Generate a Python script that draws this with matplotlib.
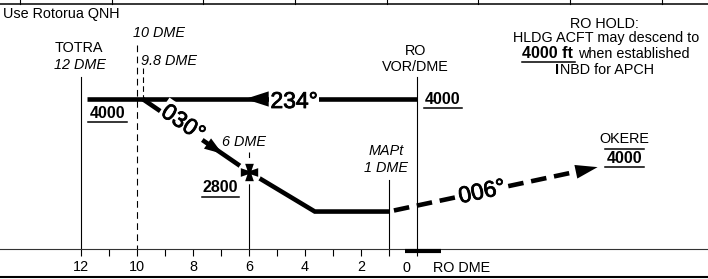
import numpy as np
import matplotlib
matplotlib.use('Agg')
from matplotlib import pyplot as plt
from matplotlib.path import Path
from matplotlib.transforms import Affine2D
import matplotlib.patheffects as pe

plt.rcParams['font.family'] = ['Liberation Sans', 'DejaVu Sans']

# profile data: distance in DME (NM from RO), altitude in ft
hold_dme = [11.8, 0.0]
hold_alt = [4000, 4000]
descent_dme = [9.8, 6.0, 3.65, 1.0]
descent_alt = [4000, 2800, 2150, 2150]
missed_dme = [1.0, -6.45]
missed_alt = [2150, 2880]
fix_dme, fix_alt = 6.0, 2800
major_ticks = [12, 10, 8, 6, 4, 2, 0]
major_labels = ['12', '10', '8', '6', '4', '2', '']
minor_ticks = [11, 9, 7, 5, 3, 1]

W, H = 708, 279
fig = plt.figure(figsize=(W / 100, H / 100), dpi=100)
PX = Affine2D().scale(1 / W, -1 / H).translate(0, 1) + fig.transFigure

ax = fig.add_axes([0, 30 / H, 1, 249 / H])
ft_px = 1200 / 73


def alt(py):
    return 4000 + (99 - py) * ft_px


ax.set_xlim(417 / 28, (417 - W) / 28)
ax.set_ylim(alt(249), alt(0))
for s in ['top', 'left', 'right']:
    ax.spines[s].set_visible(False)
ax.spines['bottom'].set_linewidth(0.8)
ax.spines['bottom'].set_color('#333333')
ax.set_yticks([])
ax.set_xticks(major_ticks)
ax.set_xticklabels(major_labels)
ax.set_xticks(minor_ticks, minor=True)
ax.tick_params(axis='x', which='both', direction='out', length=5.2, width=0.8,
               colors='k', labelsize=10.4, pad=3)
ax.patch.set_visible(False)

# vertical reference lines
vk = dict(color='k', lw=0.8, clip_on=False, zorder=1)
ax.plot([12, 12], [alt(77), alt(249)], **vk)
ax.plot([10, 10], [alt(45), alt(249)], ls=(0, (6, 4)), **vk)
ax.plot([9.8, 9.8], [alt(68), 4000], ls=(0, (5, 3)), **vk)
ax.plot([6, 6], [alt(152), fix_alt], ls=(0, (5, 3)), **vk)
ax.plot([6, 6], [fix_alt, alt(249)], **vk)
ax.plot([1, 1], [alt(180), alt(249)], **vk)
ax.plot([0, 0], [alt(77), alt(249)], **vk)
ax.plot([0.42, -0.86], [alt(250.5), alt(250.5)], color='k', lw=3,
        solid_capstyle='butt', clip_on=False, zorder=3)

# flight path
thick = dict(color='k', lw=3.3, solid_capstyle='butt', zorder=3)
ax.plot(hold_dme, hold_alt, **thick)
ax.plot(descent_dme, descent_alt, solid_joinstyle='miter', **thick)
mx = np.array(missed_dme)
my = np.array(missed_alt)
f = 0.95
ax.plot([mx[0], mx[0] + (mx[1] - mx[0]) * f], [my[0], my[0] + (my[1] - my[0]) * f],
        color='k', lw=3.3, ls=(4.0, (3.4, 1.7)), dash_capstyle='butt', zorder=3)


def head(tip, base, length, width):
    ax.annotate('', xy=tip, xytext=base, zorder=5,
                arrowprops=dict(arrowstyle=f'-|>,head_length={length},head_width={width}',
                                lw=0, color='k', shrinkA=0, shrinkB=0, mutation_scale=1))


head((6.14, 4000), (4.0, 4000), 17, 5.5)
d_tip, d_base = 6.95, 8.0
head((d_tip, np.interp(d_tip, [6, 9.8], [2800, 4000])),
     (d_base, np.interp(d_base, [6, 9.8], [2800, 4000])), 13, 4.5)
head((mx[1], my[1]), (mx[0], my[0]), 16, 5)

# fix symbol
a, b = 0.24, 0.5
verts = [(a, a), (b, 1), (-b, 1), (-a, a), (-1, b), (-1, -b), (-a, -a), (-b, -1),
         (b, -1), (a, -a), (1, -b), (1, b), (a, a)]
cross = Path(verts, closed=True)
ax.plot([fix_dme], [fix_alt], marker='o', ms=16, mfc='white', mec='white', zorder=4)
ax.plot([fix_dme], [fix_alt], marker=cross, ms=12.5, color='k', mew=0, zorder=6)


def ang(x0, y0, x1, y1):
    p = ax.transData.transform([[x0, y0], [x1, y1]])
    return np.degrees(np.arctan2(p[1, 1] - p[0, 1], p[1, 0] - p[0, 0]))


def txt(x, y, s, **kw):
    kw.setdefault('size', 10.4)
    kw.setdefault('ha', 'center')
    kw.setdefault('va', 'baseline')
    fig.text(x, y, s, transform=PX, **kw)


def hline(x0, x1, y, lw=1.1):
    fig.add_artist(plt.Line2D([x0, x1], [y, y], color='k', lw=lw, transform=PX))


white = dict(boxstyle='square,pad=0.08', fc='white', ec='none')
heavy = [pe.withStroke(linewidth=0.6, foreground='k')]
txt(294, 108, '234°', size=16.5, bbox=white, zorder=4, path_effects=heavy)
txt(183, 123, '030°', size=16.5, va='center', rotation=ang(9.8, 4000, 6, 2800),
    rotation_mode='anchor', bbox=white, zorder=4, path_effects=heavy)
txt(482, 192, '006°', size=16.5, va='center', rotation=ang(mx[0], my[0], mx[1], my[1]),
    rotation_mode='anchor', bbox=white, zorder=4, path_effects=heavy)

txt(3, 18, 'Use Rotorua QNH', ha='left')
txt(133, 37, '10 DME', ha='left', style='italic')
txt(79, 52, 'TOTRA')
txt(79.5, 69, '12 DME', style='italic')
txt(141, 65, '9.8 DME', ha='left', style='italic')
txt(107.5, 118, '4000', size=11.5, weight='bold')
hline(88, 127, 121.5)
txt(416, 55, 'RO')
txt(415, 71, 'VOR/DME')
txt(443, 104, '4000', size=11.5, weight='bold')
hline(424, 462, 107.5)
txt(243.5, 146, '6 DME', style='italic')
txt(220.5, 192, '2800', size=11.5, weight='bold')
hline(202, 239, 196.5)
txt(386, 155, 'MAPt', style='italic')
txt(386, 172, '1 DME', style='italic')
txt(624, 143, 'OKERE')
hline(605, 644, 149)
txt(625, 163, '4000', size=11.5, weight='bold')
hline(605, 644, 167)
txt(406, 272, '0')
txt(433, 272, 'RO DME', ha='left')

# hold note
txt(604, 28, 'RO HOLD:')
txt(606, 42, 'HLDG ACFT may descend to')
txt(522, 58, '4000 ft', ha='left', size=11.5, weight='bold')
hline(522, 575, 62)
txt(578, 58, 'when established', ha='left')
txt(555.5, 74, 'I', ha='left', weight='bold')
txt(559.5, 74, 'NBD for APCH', ha='left')

# frame lines
hline(0, W, 3.6, lw=1.1)
for xv in [20, 112, 203, 295, 387, 478, 570, 662]:
    fig.add_artist(plt.Line2D([xv, xv], [0, 3.6], color='k', lw=0.8, transform=PX))
hline(0, W, 277.2, lw=1.5)

fig.savefig('out.png', dpi=100)
